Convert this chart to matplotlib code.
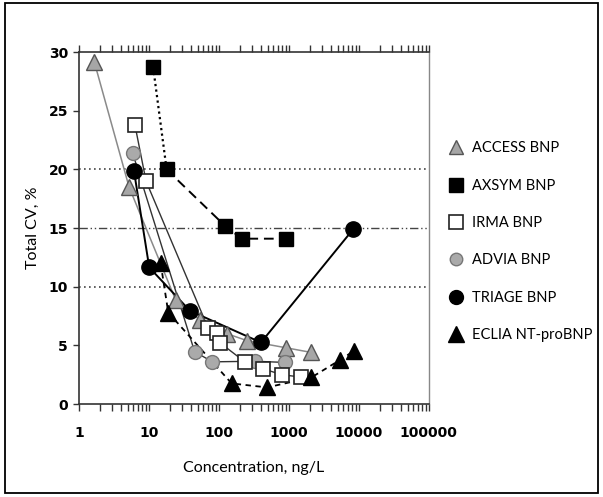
import matplotlib.pyplot as plt
import matplotlib.ticker as mticker
from matplotlib.patches import Rectangle
from matplotlib.lines import Line2D

# --- data ---
access_x = [1.65, 5.2, 24, 53, 130, 255, 910, 2100]
access_y = [29.2, 18.5, 8.9, 7.2, 6.0, 5.4, 4.8, 4.4]

axsym_x = [11.5, 17.9, 122, 212, 900]
axsym_y = [28.7, 20.0, 15.2, 14.1, 14.1]

irma_x = [6.3, 9.1, 70, 95, 105, 235, 430, 800, 1500]
irma_y = [23.8, 19.0, 6.5, 6.1, 5.2, 3.6, 3.0, 2.5, 2.3]

advia_x = [5.85, 45, 81, 325, 880]
advia_y = [21.4, 4.46, 3.6, 3.65, 3.55]

triage_x = [6.1, 10.1, 38.6, 400, 8300]
triage_y = [19.9, 11.65, 7.95, 5.25, 14.9]

eclia_x = [14.7, 18.9, 152, 490, 2100, 5360, 8630]
eclia_y = [12.0, 7.8, 1.76, 1.42, 2.27, 3.75, 4.55]

labels = ["ACCESS BNP", "AXSYM BNP", "IRMA BNP", "ADVIA BNP", "TRIAGE BNP", "ECLIA NT-proBNP"]
y_ticks = [0, 5, 10, 15, 20, 25, 30]
x_ticks = [1, 10, 100, 1000, 10000, 100000]

plt.rcParams['font.family'] = ['Lato', 'DejaVu Sans']

fig = plt.figure(figsize=(6.03, 4.97), dpi=100)
ax = fig.add_axes([0.131, 0.187, 0.580, 0.708])

# reference lines
ax.axhline(20, color='#444444', lw=1.2, ls=(0, (1, 2)), zorder=1)
ax.axhline(10, color='#444444', lw=1.2, ls=(0, (1, 2)), zorder=1)
ax.axhline(15, color='#444444', lw=1.0, ls=(0, (6, 2, 1, 2, 1, 2)), zorder=1)

# series
ax.plot(access_x, access_y, color='#8a8a8a', lw=1.1, zorder=2)
ax.plot(irma_x, irma_y, color='#333333', lw=1.0, zorder=2)
ax.plot(advia_x, advia_y, color='#333333', lw=1.0, zorder=2)
ax.plot(triage_x, triage_y, color='black', lw=1.4, zorder=2)
ax.plot(axsym_x[:2], axsym_y[:2], color='black', lw=1.6, ls=(0, (1, 1.5)), zorder=2)
ax.plot(axsym_x[1:], axsym_y[1:], color='black', lw=1.4, ls=(0, (5, 3)), zorder=2)
ax.plot(eclia_x, eclia_y, color='black', lw=1.3, ls=(0, (3, 2.5)), zorder=2)

m_access = dict(marker='^', ms=11, mfc='#a6a6a6', mec='#555555', mew=1.0, ls='none')
m_axsym = dict(marker='s', ms=9.5, mfc='black', mec='black', ls='none')
m_irma = dict(marker='s', ms=9.5, mfc='white', mec='#222222', mew=1.2, ls='none')
m_advia = dict(marker='o', ms=10, mfc='#aaaaaa', mec='#777777', mew=1.0, ls='none')
m_triage = dict(marker='o', ms=11, mfc='black', mec='black', ls='none')
m_eclia = dict(marker='^', ms=12, mfc='black', mec='black', ls='none')

ax.plot(access_x, access_y, zorder=3, **m_access)
ax.plot(advia_x, advia_y, zorder=3, **m_advia)
ax.plot(irma_x, irma_y, zorder=3, **m_irma)
ax.plot(axsym_x, axsym_y, zorder=3, **m_axsym)
ax.plot(eclia_x, eclia_y, zorder=4, **m_eclia)
ax.plot(triage_x, triage_y, zorder=4, **m_triage)

ax.set_xscale('log')
ax.set_xlim(1, 100000)
ax.set_ylim(0, 30)
ax.set_xticks(x_ticks)
ax.xaxis.set_major_formatter(mticker.FixedFormatter([str(v) for v in x_ticks]))
ax.xaxis.set_minor_locator(mticker.LogLocator(base=10, subs=range(2, 10), numticks=20))
ax.xaxis.set_minor_formatter(mticker.NullFormatter())
ax.set_yticks(y_ticks)

ax.tick_params(axis='x', which='both', top=True, direction='out', length=5, width=1, color='#333333',
               labelsize=10, pad=11)
ax.tick_params(axis='y', direction='out', length=4, width=1, color='#333333', labelsize=10, pad=4)
for lbl in ax.get_xticklabels() + ax.get_yticklabels():
    lbl.set_fontfamily('DejaVu Sans')
    lbl.set_fontweight('bold')

for side in ['left', 'bottom', 'top']:
    ax.spines[side].set_color('#333333')
    ax.spines[side].set_linewidth(1.2)
ax.spines['right'].set_color('#888888')
ax.spines['right'].set_linewidth(1.0)

ax.set_xlabel("Concentration, ng/L", fontsize=11.5, labelpad=15)
ax.set_ylabel("Total CV, %", fontsize=11.5, labelpad=6)

handles = [Line2D([], [], **m) for m in [m_access, m_axsym, m_irma, m_advia, m_triage, m_eclia]]
handles[0].set_markersize(10)
handles[3].set_markersize(9)
handles[4].set_markersize(10)
fig.legend(handles, labels, loc='upper left', bbox_to_anchor=(0.72, 0.742), frameon=False,
           fontsize=10.5, labelspacing=1.6, handletextpad=0.5, handlelength=1.2)

fig.add_artist(Rectangle((0.008, 0.008), 0.984, 0.985, transform=fig.transFigure,
                         fill=False, edgecolor='black', lw=1.3))

fig.savefig("out.png", dpi=100)
